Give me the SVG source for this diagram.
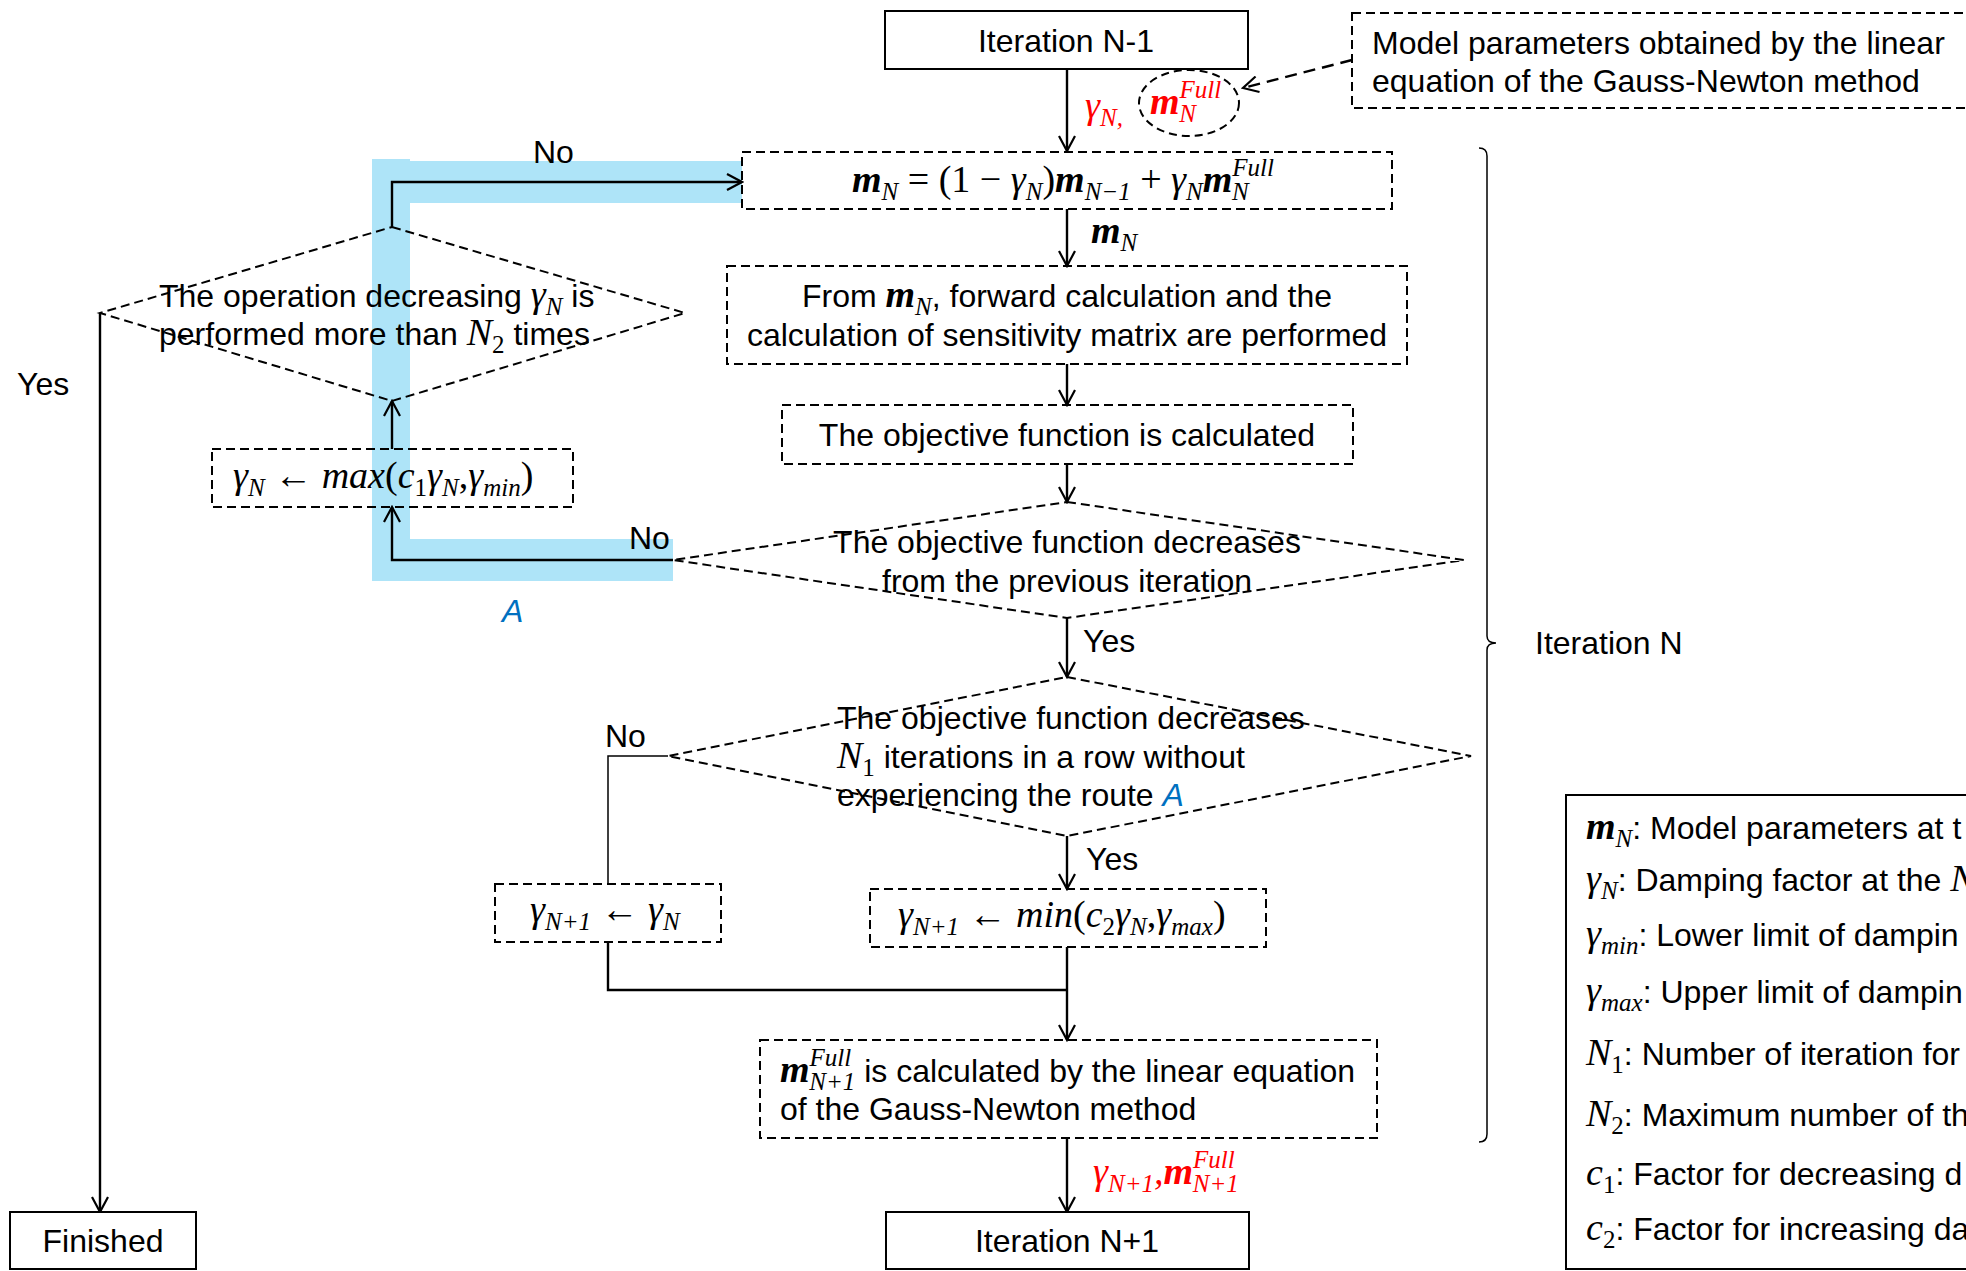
<svg xmlns="http://www.w3.org/2000/svg" width="1966" height="1271" viewBox="0 0 1966 1271">
<defs>
<style>
.t{font-family:"Liberation Sans",Arial,sans-serif;font-size:32px;fill:#000}
.mt{font-family:"Liberation Serif","DejaVu Serif",serif;font-style:italic;font-size:38px;fill:#000}
.mi{font-family:"Liberation Serif","DejaVu Serif",serif;font-style:italic;font-size:38px}
.s{font-family:"Liberation Serif","DejaVu Serif",serif;font-style:italic;font-size:25px}
.u{font-style:normal}
.b{font-weight:bold}
.red{fill:#ff0000}
.blue{fill:#0070c0;font-style:italic}
.box{fill:#fff;stroke:#000;stroke-width:2}
.dbox{fill:none;stroke:#000;stroke-width:2;stroke-dasharray:9 5}
.conn{fill:none;stroke:#000;stroke-width:2.4}
.thin{fill:none;stroke:#000;stroke-width:1.5}
.band{fill:#aee4f8}
</style>
<marker id="ah" viewBox="0 0 18 18" refX="16" refY="9" markerWidth="18" markerHeight="18" markerUnits="userSpaceOnUse" orient="auto">
<path d="M1,1 L16,9 L1,17" fill="none" stroke="#000" stroke-width="2.2"/>
</marker>
</defs>

<!-- route A highlight -->
<g id="routeA">
<rect class="band" x="372" y="159" width="38" height="422"/>
<rect class="band" x="410" y="161" width="332" height="42"/>
<rect class="band" x="410" y="539" width="263" height="42"/>
<text class="t blue" x="502" y="622" font-size="36">A</text>
</g>

<g id="connectors">
<line class="conn" x1="1067" y1="69" x2="1067" y2="151" marker-end="url(#ah)"/>
<line class="conn" x1="1352" y1="60" x2="1243" y2="88" stroke-dasharray="12 7" marker-end="url(#ah)"/>
<line class="conn" x1="1067" y1="209" x2="1067" y2="266" marker-end="url(#ah)"/>
<line class="conn" x1="1067" y1="364" x2="1067" y2="405" marker-end="url(#ah)"/>
<line class="conn" x1="1067" y1="464" x2="1067" y2="502" marker-end="url(#ah)"/>
<line class="conn" x1="1067" y1="618" x2="1067" y2="677" marker-end="url(#ah)"/>
<line class="conn" x1="1067" y1="836" x2="1067" y2="889" marker-end="url(#ah)"/>
<polyline class="thin" points="668,756 608,756 608,884"/>
<polyline class="conn" points="608,942 608,990 1067,990"/>
<line class="conn" x1="1067" y1="947" x2="1067" y2="1040" marker-end="url(#ah)"/>
<line class="conn" x1="1067" y1="1138" x2="1067" y2="1212" marker-end="url(#ah)"/>
<polyline class="conn" points="673,560 392,560 392,507" marker-end="url(#ah)"/>
<line class="conn" x1="392" y1="449" x2="392" y2="401" marker-end="url(#ah)"/>
<polyline class="conn" points="392,227 392,182 742,182" marker-end="url(#ah)"/>
<polyline class="conn" points="100,313 100,1212" marker-end="url(#ah)"/>
<path class="thin" d="M1479,148 Q1487,148 1487,156 L1487,636 Q1487,643 1496,643 Q1487,643 1487,650 L1487,1134 Q1487,1142 1479,1142"/>
<text class="t" x="533" y="163">No</text>
<text class="t" x="629" y="549">No</text>
<text class="t" x="605" y="747">No</text>
<text class="t" x="1083" y="652">Yes</text>
<text class="t" x="1086" y="870">Yes</text>
<text class="t" x="17" y="395">Yes</text>
<text class="t" x="1535" y="654">Iteration N</text>
<text class="mt red" x="1085" y="118">γ<tspan class="s" dy="8">N,</tspan></text>
<text class="mt" x="1091" y="243"><tspan class="b">m</tspan><tspan class="s" dy="8">N</tspan></text>
<text class="mt red" x="1093" y="1184">γ<tspan class="s" dy="8">N+1</tspan><tspan dy="-8">,</tspan><tspan class="b">m</tspan><tspan class="s" dy="-16">Full</tspan><tspan class="s" dx="-42" dy="24">N+1</tspan></text>
</g>

<g id="iterNm1">
<rect class="box" x="885" y="11" width="363" height="58"/>
<text class="t" x="1066" y="52" text-anchor="middle">Iteration N-1</text>
</g>

<g id="mfull">
<ellipse cx="1189" cy="103" rx="50" ry="33" fill="none" stroke="#000" stroke-width="2" stroke-dasharray="8 5"/>
<text class="mt red" x="1150" y="114"><tspan class="b">m</tspan><tspan class="s" dy="-16">Full</tspan><tspan class="s" dx="-42" dy="24">N</tspan></text>
</g>

<g id="modelParams">
<rect class="dbox" x="1352" y="13" width="700" height="95"/>
<text class="t" x="1372" y="54">Model parameters obtained by the linear</text>
<text class="t" x="1372" y="92">equation of the Gauss-Newton method</text>
</g>

<g id="update">
<rect class="dbox" x="742" y="152" width="650" height="57"/>
<text class="mt" x="1063" y="192" text-anchor="middle"><tspan class="b">m</tspan><tspan class="s" dy="8">N</tspan><tspan class="u" dy="-8"> = (1 − </tspan>γ<tspan class="s" dy="8">N</tspan><tspan class="u" dy="-8">)</tspan><tspan class="b">m</tspan><tspan class="s" dy="8">N−1</tspan><tspan class="u" dy="-8"> + </tspan>γ<tspan class="s" dy="8">N</tspan><tspan class="b" dy="-8">m</tspan><tspan class="s" dy="-16">Full</tspan><tspan class="s" dx="-42" dy="24">N</tspan></text>
</g>

<g id="forward">
<rect class="dbox" x="727" y="266" width="680" height="98"/>
<text class="t" x="1067" y="307" text-anchor="middle">From <tspan class="mi b">m</tspan><tspan class="s" dy="8">N</tspan><tspan dy="-8">, forward calculation and the</tspan></text>
<text class="t" x="1067" y="346" text-anchor="middle">calculation of sensitivity matrix are performed</text>
</g>

<g id="objective">
<rect class="dbox" x="782" y="405" width="571" height="59"/>
<text class="t" x="1067" y="446" text-anchor="middle">The objective function is calculated</text>
</g>

<g id="decision1">
<polygon class="dbox" points="1067,502 1464,560 1067,618 673,560"/>
<text class="t" x="1067" y="553" text-anchor="middle">The objective function decreases</text>
<text class="t" x="1067" y="592" text-anchor="middle">from the previous iteration</text>
</g>

<g id="decision2">
<polygon class="dbox" points="1067,677 1471,756 1067,836 668,756"/>
<text class="t" x="837" y="729">The objective function decreases</text>
<text class="t" x="837" y="768"><tspan class="mi">N</tspan><tspan class="s u" dy="8">1</tspan><tspan dy="-8"> iterations in a row without</tspan></text>
<text class="t" x="837" y="806">experiencing the route <tspan class="blue">A</tspan></text>
</g>

<g id="decision3">
<polygon class="dbox" points="392,227 685,313 392,401 100,313"/>
<text class="t" x="159" y="307">The operation decreasing <tspan class="mi">γ</tspan><tspan class="s" dy="8">N</tspan><tspan dy="-8"> is</tspan></text>
<text class="t" x="159" y="345">performed more than <tspan class="mi">N</tspan><tspan class="s u" dy="8">2</tspan><tspan dy="-8"> times</tspan></text>
</g>

<g id="decrease">
<rect class="dbox" x="212" y="449" width="361" height="58"/>
<text class="mt" x="233" y="488">γ<tspan class="s" dy="8">N</tspan><tspan class="u" dy="-8"> ← </tspan>max<tspan class="u">(</tspan>c<tspan class="s u" dy="8">1</tspan><tspan dy="-8">γ</tspan><tspan class="s" dy="8">N</tspan><tspan class="u" dy="-8">,</tspan>γ<tspan class="s" dy="8">min</tspan><tspan class="u" dy="-8">)</tspan></text>
</g>

<g id="keep">
<rect class="dbox" x="495" y="884" width="226" height="58"/>
<text class="mt" x="530" y="922">γ<tspan class="s" dy="8">N+1</tspan><tspan class="u" dy="-8"> ← </tspan>γ<tspan class="s" dy="8">N</tspan></text>
</g>

<g id="increase">
<rect class="dbox" x="870" y="889" width="396" height="58"/>
<text class="mt" x="898" y="927">γ<tspan class="s" dy="8">N+1</tspan><tspan class="u" dy="-8"> ← </tspan>min<tspan class="u">(</tspan>c<tspan class="s u" dy="8">2</tspan><tspan dy="-8">γ</tspan><tspan class="s" dy="8">N</tspan><tspan class="u" dy="-8">,</tspan>γ<tspan class="s" dy="8">max</tspan><tspan class="u" dy="-8">)</tspan></text>
</g>

<g id="gaussNewton">
<rect class="dbox" x="760" y="1040" width="617" height="98"/>
<text class="t" x="780" y="1082"><tspan class="mi b">m</tspan><tspan class="s" dy="-16">Full</tspan><tspan class="s" dx="-42" dy="24">N+1</tspan><tspan dy="-8"> is calculated by the linear equation</tspan></text>
<text class="t" x="780" y="1120">of the Gauss-Newton method</text>
</g>

<g id="iterNp1">
<rect class="box" x="886" y="1212" width="363" height="57"/>
<text class="t" x="1067" y="1252" text-anchor="middle">Iteration N+1</text>
</g>

<g id="finished">
<rect class="box" x="10" y="1212" width="186" height="57"/>
<text class="t" x="103" y="1252" text-anchor="middle">Finished</text>
</g>

<g id="legend">
<rect class="box" x="1566" y="795" width="500" height="474" stroke-width="2.5"/>
<text class="t" x="1586" y="839"><tspan class="mi b">m</tspan><tspan class="s" dy="8">N</tspan><tspan dy="-8">: Model parameters at t</tspan></text>
<text class="t" x="1586" y="891"><tspan class="mi">γ</tspan><tspan class="s" dy="8">N</tspan><tspan dy="-8">: Damping factor at the </tspan><tspan class="mi">N</tspan></text>
<text class="t" x="1586" y="946"><tspan class="mi">γ</tspan><tspan class="s" dy="8">min</tspan><tspan dy="-8">: Lower limit of dampin</tspan></text>
<text class="t" x="1586" y="1003"><tspan class="mi">γ</tspan><tspan class="s" dy="8">max</tspan><tspan dy="-8">: Upper limit of dampin</tspan></text>
<text class="t" x="1586" y="1065"><tspan class="mi">N</tspan><tspan class="s u" dy="8">1</tspan><tspan dy="-8">: Number of iteration for</tspan></text>
<text class="t" x="1586" y="1126"><tspan class="mi">N</tspan><tspan class="s u" dy="8">2</tspan><tspan dy="-8">: Maximum number of th</tspan></text>
<text class="t" x="1586" y="1185"><tspan class="mi">c</tspan><tspan class="s u" dy="8">1</tspan><tspan dy="-8">: Factor for decreasing d</tspan></text>
<text class="t" x="1586" y="1240"><tspan class="mi">c</tspan><tspan class="s u" dy="8">2</tspan><tspan dy="-8">: Factor for increasing da</tspan></text>
</g>
</svg>
